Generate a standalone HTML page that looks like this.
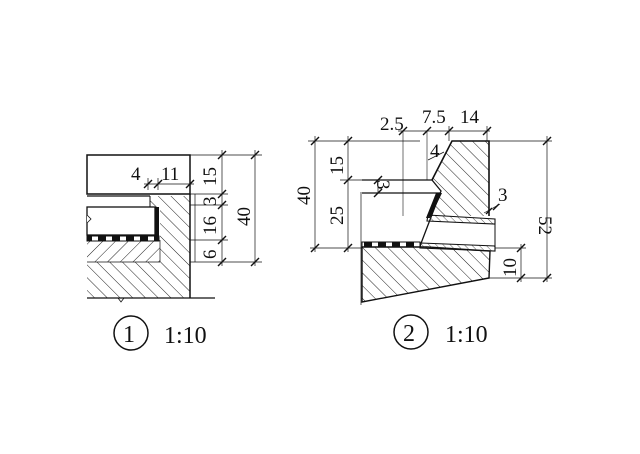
<!DOCTYPE html>
<html><head><meta charset="utf-8"><style>
html,body{margin:0;padding:0;background:#fff;}
svg{display:block;}
text{font-family:"Liberation Serif",serif;fill:#111;}
</style></head><body>
<svg width="640" height="454" viewBox="0 0 640 454" xmlns="http://www.w3.org/2000/svg">
<defs>
<pattern id="h1" width="9" height="9" patternUnits="userSpaceOnUse" patternTransform="rotate(-45)">
<line x1="0" y1="0" x2="0" y2="9" stroke="#222" stroke-width="1"/></pattern>
<pattern id="h2" width="9" height="9" patternUnits="userSpaceOnUse" patternTransform="rotate(45)">
<line x1="0" y1="0" x2="0" y2="9" stroke="#222" stroke-width="1"/></pattern>
<pattern id="h3" width="5" height="5" patternUnits="userSpaceOnUse" patternTransform="rotate(-45)">
<line x1="0" y1="0" x2="0" y2="5" stroke="#333" stroke-width="0.8"/></pattern>
<pattern id="dash" width="14" height="6" patternUnits="userSpaceOnUse">
<rect width="8" height="6" fill="#111"/></pattern>
</defs>
<g stroke="#111" fill="none">
<polygon points="150,196 190,196 190,298 87,298 87,262 160,262 160,207 150,207" fill="url(#h1)" stroke="none"/>
<polygon points="87,241 160,241 160,262 87,262" fill="url(#h2)" stroke="none"/>
<rect x="87" y="155" width="103" height="39" stroke-width="1.5"/>
<line x1="190" y1="194" x2="190" y2="298" stroke-width="1.5"/>
<line x1="87" y1="298" x2="215" y2="298" stroke-width="1.3"/>
<line x1="87" y1="196" x2="150" y2="196" stroke-width="1.2"/>
<line x1="150" y1="196" x2="150" y2="207" stroke-width="1"/>
<rect x="87" y="207" width="68" height="28" fill="#fff" stroke-width="1.3"/>
<rect x="155" y="207" width="4" height="33" fill="#111" stroke="none"/>
<rect x="87" y="236" width="72" height="5" fill="url(#dash)" stroke="#111" stroke-width="1"/>
<line x1="160" y1="240" x2="160" y2="262" stroke-width="0.7"/>
<line x1="87" y1="262" x2="160" y2="262" stroke-width="0.7"/>
<path d="M87,215 l4,4 -4,4" stroke-width="0.8" fill="#fff"/>
<path d="M118,298 l3,4 3,-4" stroke-width="0.8"/>
<g stroke-width="0.7">
<line x1="190" y1="155" x2="262" y2="155"/>
<line x1="190" y1="194" x2="228" y2="194"/>
<line x1="190" y1="205" x2="228" y2="205"/>
<line x1="190" y1="240" x2="228" y2="240"/>
<line x1="190" y1="262" x2="262" y2="262"/>
<line x1="222" y1="150" x2="222" y2="266"/>
<line x1="255" y1="150" x2="255" y2="266"/>
<line x1="195" y1="194" x2="195" y2="262"/>
<line x1="144" y1="184" x2="194" y2="184"/>
<line x1="148" y1="178" x2="148" y2="190"/>
<line x1="158" y1="178" x2="158" y2="190"/>
</g>
<g stroke-width="1.4">
<line x1="218" y1="159" x2="226" y2="151"/>
<line x1="218" y1="198" x2="226" y2="190"/>
<line x1="218" y1="209" x2="226" y2="201"/>
<line x1="218" y1="244" x2="226" y2="236"/>
<line x1="218" y1="266" x2="226" y2="258"/>
<line x1="251" y1="159" x2="259" y2="151"/>
<line x1="251" y1="266" x2="259" y2="258"/>
<line x1="144" y1="188" x2="152" y2="180"/>
<line x1="154" y1="188" x2="162" y2="180"/>
<line x1="186" y1="188" x2="194" y2="180"/>
</g>
<polygon points="362,247 427,247 490,251 489,278 362,302" fill="url(#h1)" stroke="none"/>
<polygon points="452,141 489,141 489,216 428,216 441,191 432,180" fill="url(#h1)" stroke="none"/>
<polygon points="362,247 427,247 490,251 489,278 362,302" stroke-width="1.4"/>
<polyline points="432,180 452,141 489,141 489,216" stroke-width="1.6"/>
<line x1="362" y1="180" x2="432" y2="180" stroke-width="1.3"/>
<line x1="362" y1="193" x2="441" y2="193" stroke-width="1.3"/>
<polyline points="432,180 441,191 420,246" stroke-width="1.3"/>
<polygon points="436,193 442,193 430,218 426,218" fill="#111" stroke="none"/>
<polygon points="428,215 495,219 495,224 427,221" fill="url(#h3)" stroke-width="1.1"/>
<polygon points="421,243 495,246 495,251 420,248" fill="url(#h3)" stroke-width="1.1"/>
<line x1="495" y1="219" x2="495" y2="251" stroke-width="1"/>
<rect x="362" y="242" width="58" height="5" fill="url(#dash)" stroke-width="1"/>
<line x1="361" y1="192" x2="361" y2="305" stroke-width="0.7"/>
<line x1="403" y1="131" x2="403" y2="216" stroke-width="0.6"/>
<line x1="427" y1="131" x2="427" y2="180" stroke-width="0.6"/>
<g stroke-width="0.7">
<line x1="308" y1="141" x2="420" y2="141"/>
<line x1="310" y1="248" x2="362" y2="248"/>
<line x1="340" y1="180" x2="362" y2="180"/>
<line x1="315" y1="136" x2="315" y2="252"/>
<line x1="348" y1="136" x2="348" y2="252"/>
<line x1="489" y1="141" x2="552" y2="141"/>
<line x1="489" y1="278" x2="552" y2="278"/>
<line x1="495" y1="248" x2="526" y2="248"/>
<line x1="547" y1="136" x2="547" y2="282"/>
<line x1="521" y1="244" x2="521" y2="282"/>
<line x1="398" y1="131" x2="490" y2="131"/>
<line x1="449" y1="126" x2="449" y2="141"/>
<line x1="487" y1="126" x2="487" y2="141"/>
<line x1="428" y1="160" x2="444" y2="152"/>
<line x1="378" y1="180" x2="378" y2="193"/>
<line x1="484" y1="213" x2="500" y2="204"/>
</g>
<g stroke-width="1.4">
<line x1="311" y1="145" x2="319" y2="137"/>
<line x1="311" y1="252" x2="319" y2="244"/>
<line x1="344" y1="145" x2="352" y2="137"/>
<line x1="344" y1="184" x2="352" y2="176"/>
<line x1="344" y1="252" x2="352" y2="244"/>
<line x1="543" y1="145" x2="551" y2="137"/>
<line x1="543" y1="282" x2="551" y2="274"/>
<line x1="517" y1="252" x2="525" y2="244"/>
<line x1="517" y1="282" x2="525" y2="274"/>
<line x1="399" y1="135" x2="407" y2="127"/>
<line x1="423" y1="135" x2="431" y2="127"/>
<line x1="445" y1="135" x2="453" y2="127"/>
<line x1="483" y1="135" x2="491" y2="127"/>
<line x1="374" y1="184" x2="382" y2="176"/>
<line x1="374" y1="197" x2="382" y2="189"/>
<line x1="486" y1="214" x2="492" y2="208"/>
<line x1="493" y1="210" x2="499" y2="204"/>
</g>
<circle cx="131" cy="333" r="17" stroke-width="1.5"/>
<circle cx="411" cy="332" r="17" stroke-width="1.5"/>
</g>
<g font-size="19">
<text x="131" y="180">4</text>
<text x="161" y="180">11</text>
<text transform="translate(216,186) rotate(-90)">15</text>
<text transform="translate(216,206) rotate(-90)">3</text>
<text transform="translate(216,235) rotate(-90)">16</text>
<text transform="translate(216,259) rotate(-90)">6</text>
<text transform="translate(250,226) rotate(-90)">40</text>
<text x="380" y="130">2.5</text>
<text x="422" y="123">7.5</text>
<text x="460" y="123">14</text>
<text x="430" y="157">4</text>
<text x="498" y="201">3</text>
<text transform="translate(310,205) rotate(-90)">40</text>
<text transform="translate(343,175) rotate(-90)">15</text>
<text transform="translate(343,225) rotate(-90)">25</text>
<text transform="translate(377,180) rotate(90)">3</text>
<text transform="translate(539,216) rotate(90)">52</text>
<text transform="translate(516,277) rotate(-90)">10</text>
</g>
<text x="123" y="342" font-size="24">1</text>
<text x="403" y="341" font-size="24">2</text>
<text x="164" y="343" font-size="24">1:10</text>
<text x="445" y="342" font-size="24">1:10</text>
</svg>
</body></html>
